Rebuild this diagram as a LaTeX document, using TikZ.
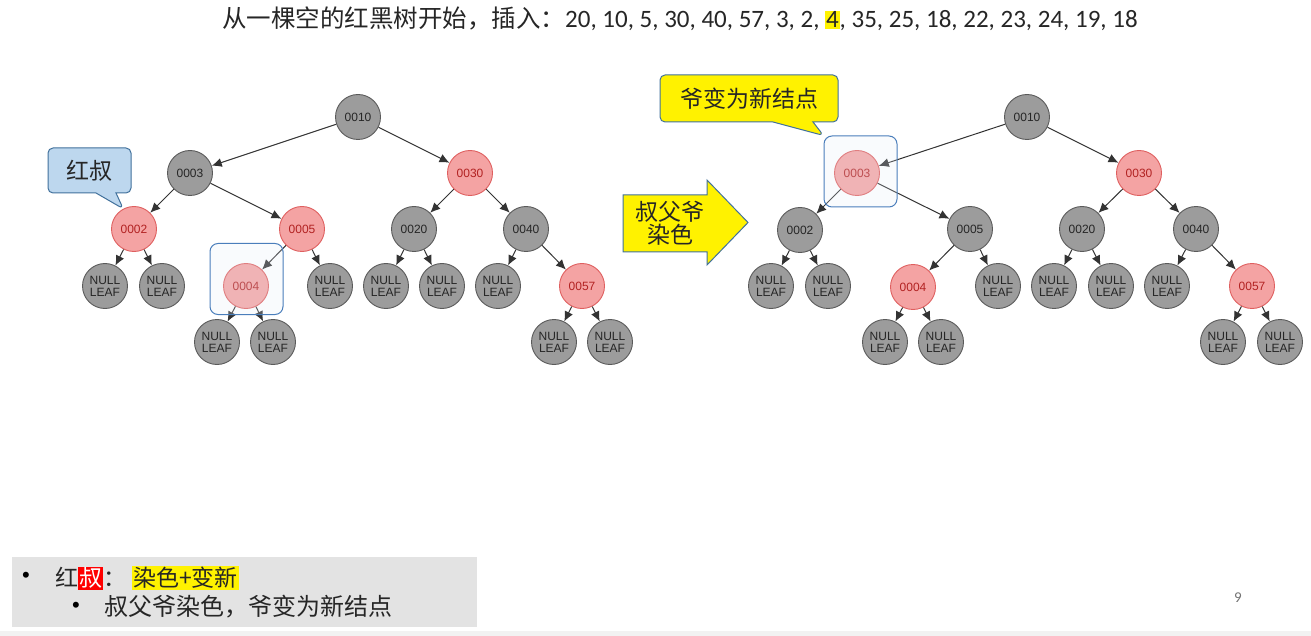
\documentclass[tikz,border=0pt]{standalone}
\usepackage{fontspec}
\setmainfont{Liberation Sans}
\newfontfamily\cjk{Noto Sans CJK SC}
\newfontfamily\calf{Carlito}
\usetikzlibrary{arrows.meta,shapes.callouts}
\definecolor{nodegray}{HTML}{9C9C9C}
\definecolor{nodestroke}{HTML}{5A5A5A}
\definecolor{redfill}{HTML}{F4A3A3}
\definecolor{redstroke}{HTML}{DF5F5F}
\definecolor{redtext}{HTML}{B22222}
\definecolor{edgecol}{HTML}{333333}
\definecolor{calblue}{HTML}{BDD7EE}
\definecolor{calstroke}{HTML}{41719C}
\definecolor{hlfill}{HTML}{E4EDF7}
\definecolor{hlstroke}{HTML}{4A7EBB}
\definecolor{txtcol}{HTML}{262626}
\definecolor{boxgray}{HTML}{E3E3E3}
\newcommand\hlbox[2]{{\setlength{\fboxsep}{1pt}\colorbox{#1}{#2}}}
\begin{document}
\begin{tikzpicture}[x=1pt,y=-1pt,
  bn/.style={circle,draw=nodestroke,fill=nodegray,line width=0.9pt,minimum size=45pt,inner sep=0pt,font=\fontsize{12}{13}\selectfont,text=black!85},
  rn/.style={bn,draw=redstroke,fill=redfill,text=redtext},
  nl/.style={bn,align=center,font=\fontsize{12}{12}\selectfont},
  edge/.style={draw=edgecol,line width=1pt,-{Latex[length=10pt,width=9pt]}},
  hlbox/.style={rectangle,rounded corners=8pt,draw=hlstroke,line width=1pt,fill=hlfill,fill opacity=0.22,minimum width=73pt,minimum height=71pt},
  cjkt/.style={font=\cjk\fontsize{23}{26}\selectfont,text=txtcol}
]
\useasboundingbox (0,0) rectangle (1311,636);
\fill[white] (0,0) rectangle (1311,636);
\fill[black!5] (0,631) rectangle (1311,636);

% title
\node[anchor=west,inner sep=0pt,text=txtcol] (title) at (222,19)
  {{\cjk\fontsize{24.5}{26}\selectfont 从一棵空的红黑树开始，插入：}{\calf\fontsize{25}{28}\selectfont 20, 10, 5, 30, 40, 57, 3, 2, \hlbox{yellow}{4}, 35, 25, 18, 22, 23, 24, 19, 18}};

% ---------- left tree ----------
\node[bn] (L10) at (358,117) {0010};
\node[bn] (L3) at (190,173) {0003};
\node[rn] (L30) at (470,173) {0030};
\node[rn] (L2) at (134,229) {0002};
\node[rn] (L5) at (302,229) {0005};
\node[bn] (L20) at (414,229) {0020};
\node[bn] (L40) at (526,229) {0040};
\node[nl] (La) at (105,286) {NULL\\LEAF};
\node[nl] (Lb) at (162,286) {NULL\\LEAF};
\node[rn] (L4) at (246,286) {0004};
\node[nl] (Lc) at (330,286) {NULL\\LEAF};
\node[nl] (Ld) at (386,286) {NULL\\LEAF};
\node[nl] (Le) at (442,286) {NULL\\LEAF};
\node[nl] (Lf) at (498,286) {NULL\\LEAF};
\node[rn] (L57) at (582,286) {0057};
\node[nl] (Lg) at (217,342) {NULL\\LEAF};
\node[nl] (Lh) at (273,342) {NULL\\LEAF};
\node[nl] (Li) at (554,342) {NULL\\LEAF};
\node[nl] (Lj) at (610,342) {NULL\\LEAF};
\foreach \a/\b in {L10/L3,L10/L30,L3/L2,L3/L5,L30/L20,L30/L40,L2/La,L2/Lb,L5/L4,L5/Lc,L20/Ld,L20/Le,L40/Lf,L40/L57,L4/Lg,L4/Lh,L57/Li,L57/Lj}
  \draw[edge] (\a) -- (\b);
\node[hlbox] (hl1) at (246.5,279) {};

% callout 红叔
\node[rectangle callout,rounded corners=5pt,draw=calstroke,fill=calblue,line width=1pt,
  minimum width=83pt,minimum height=45pt,callout pointer width=20pt,
  callout absolute pointer={(L2.118)},cjkt] (c1) at (89.5,170.5) {红叔};

% block arrow
\draw[draw=calstroke,fill=yellow,line width=1pt] (623,195) -- (707,195) -- (707,180) -- (748,222.5) -- (707,265) -- (707,252) -- (623,252) -- cycle;
\node[cjkt,align=center,inner sep=0pt] (arrtxt) at (670,223) {叔父爷\\[-3pt]染色};

% ---------- right tree ----------
\node[bn] (R10) at (1027,117) {0010};
\node[rn] (R3) at (857,173) {0003};
\node[rn] (R30) at (1139,173) {0030};
\node[bn] (R2) at (800,230) {0002};
\node[bn] (R5) at (970,229) {0005};
\node[bn] (R20) at (1082,229) {0020};
\node[bn] (R40) at (1196,229) {0040};
\node[nl] (Ra) at (771,286) {NULL\\LEAF};
\node[nl] (Rb) at (828,286) {NULL\\LEAF};
\node[rn] (R4) at (913,287) {0004};
\node[nl] (Rc) at (998,286) {NULL\\LEAF};
\node[nl] (Rd) at (1054,286) {NULL\\LEAF};
\node[nl] (Re) at (1111,286) {NULL\\LEAF};
\node[nl] (Rf) at (1167,286) {NULL\\LEAF};
\node[rn] (R57) at (1252,286) {0057};
\node[nl] (Rg) at (885,342) {NULL\\LEAF};
\node[nl] (Rh) at (941,342) {NULL\\LEAF};
\node[nl] (Ri) at (1223,342) {NULL\\LEAF};
\node[nl] (Rj) at (1280,342) {NULL\\LEAF};
\foreach \a/\b in {R10/R3,R10/R30,R3/R2,R3/R5,R30/R20,R30/R40,R2/Ra,R2/Rb,R5/R4,R5/Rc,R20/Rd,R20/Re,R40/Rf,R40/R57,R4/Rg,R4/Rh,R57/Ri,R57/Rj}
  \draw[edge] (\a) -- (\b);
\node[hlbox] (hl2) at (860.5,171.5) {};

% callout 爷变为新结点
\node[rectangle callout,rounded corners=5pt,draw=calstroke,fill=yellow,line width=1pt,
  minimum width=178pt,minimum height=47pt,callout pointer width=40pt,
  callout absolute pointer={(hl2.north west)},cjkt] (c2) at (749,98.5) {爷变为新结点};

% ---------- bottom box ----------
\node[rectangle,fill=boxgray,minimum width=465pt,minimum height=70pt,anchor=north west,inner sep=0pt] (bbox) at (12,557) {};
\node[font=\fontsize{22}{22}\selectfont,text=black] (b1) at (26,577) {•};
\node[font=\fontsize{22}{22}\selectfont,text=black] (b2) at (76,607) {•};
\node[anchor=west,inner sep=0pt,cjkt] (line1) at (55,578)
  {红\hlbox{red}{\textcolor{white}{叔}}：\hspace{6pt}\hlbox{yellow}{染色+变新}};
\node[anchor=west,inner sep=0pt,cjkt,font=\cjk\fontsize{24}{26}\selectfont] (line2) at (104,607) {叔父爷染色，爷变为新结点};

% page number
\node[text=black!55,font=\calf\fontsize{15}{15}\selectfont] (pg) at (1238,598) {9};
\end{tikzpicture}
\end{document}
